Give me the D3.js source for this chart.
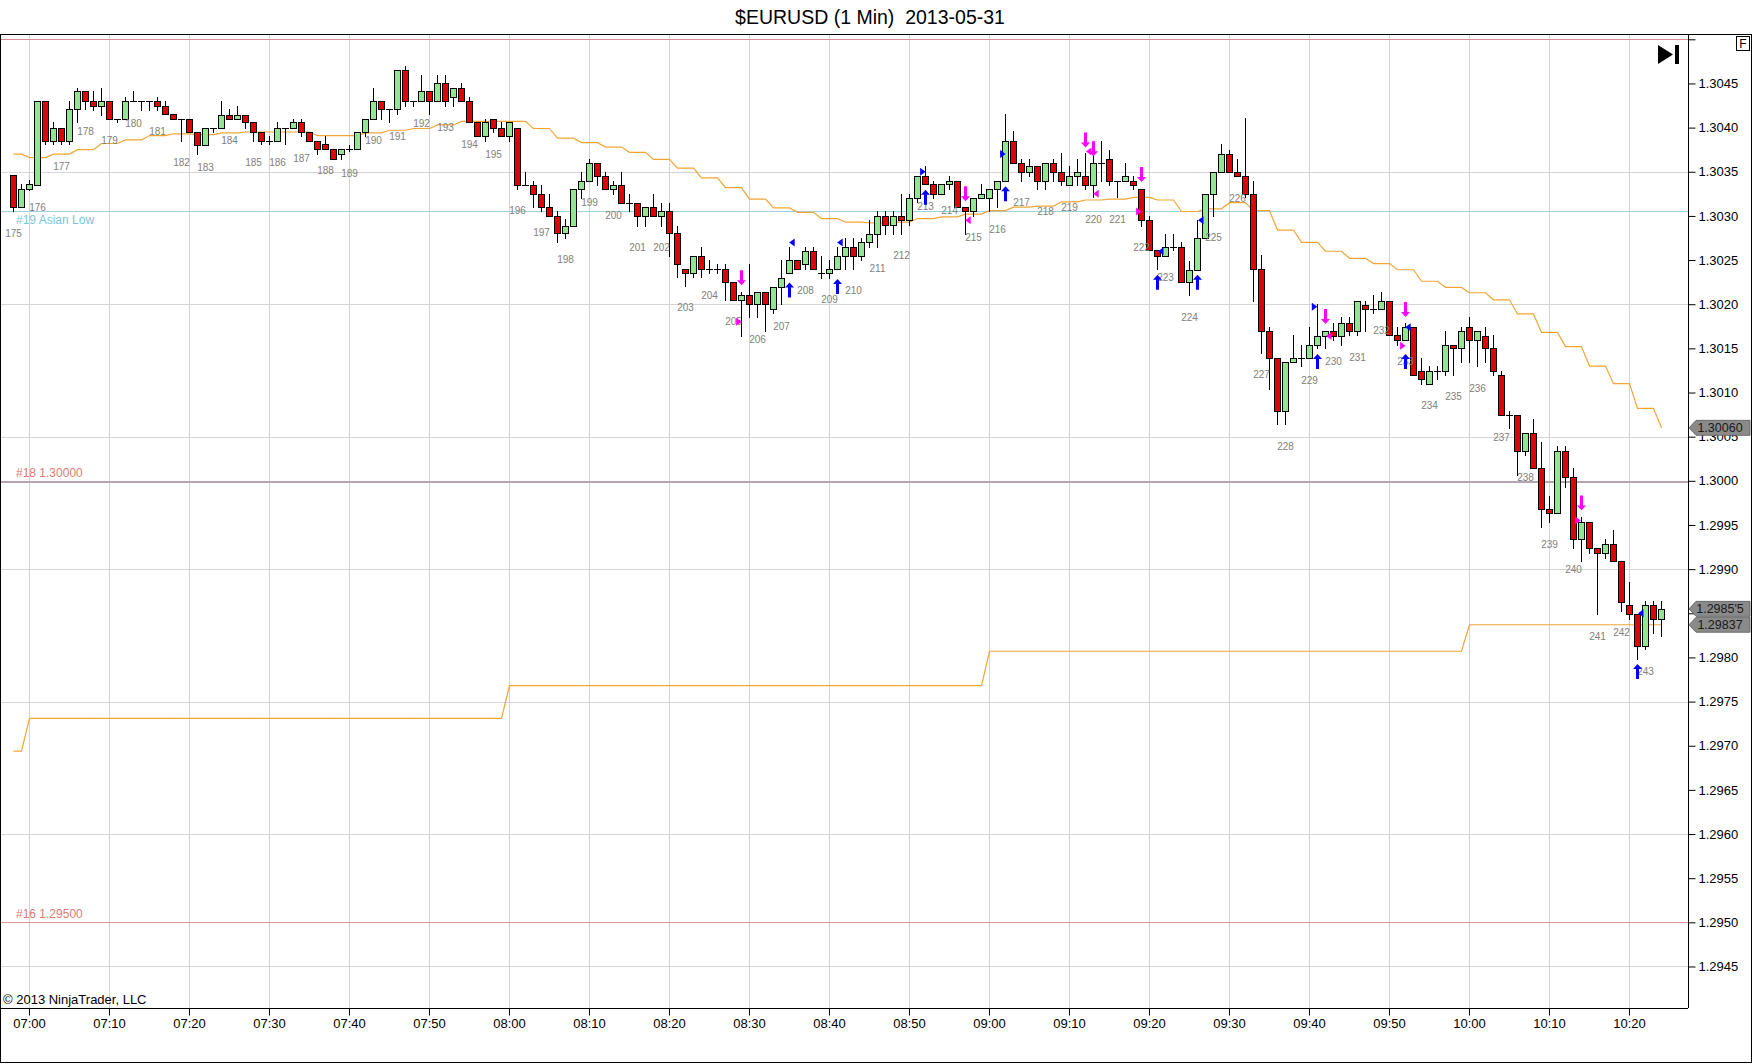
<!DOCTYPE html>
<html><head><meta charset="utf-8">
<script src="https://cdn.jsdelivr.net/npm/d3@7"></script>
<style>
html,body{margin:0;padding:0;background:#fff;}
svg{display:block;}
text{font-family:"Liberation Sans",Arial,sans-serif;}
</style>
</head><body>
<svg id="chart" width="1752" height="1064"></svg>
<script>
// ---------------- DATA ----------------
const chartTitle = "$EURUSD (1 Min)  2013-05-31";
const copyrightText = "\u00a9 2013 NinjaTrader, LLC";

const barTimes = [
 "06:58","06:59",
 "07:00","07:01","07:02","07:03","07:04","07:05","07:06","07:07","07:08","07:09",
 "07:10","07:11","07:12","07:13","07:14","07:15","07:16","07:17","07:18","07:19",
 "07:20","07:21","07:22","07:23","07:24","07:25","07:26","07:27","07:28","07:29",
 "07:30","07:31","07:32","07:33","07:34","07:35","07:36","07:37","07:38","07:39",
 "07:40","07:41","07:42","07:43","07:44","07:45","07:46","07:47","07:48","07:49",
 "07:50","07:51","07:52","07:53","07:54","07:55","07:56","07:57","07:58","07:59",
 "08:00","08:01","08:02","08:03","08:04","08:05","08:06","08:07","08:08","08:09",
 "08:10","08:11","08:12","08:13","08:14","08:15","08:16","08:17","08:18","08:19",
 "08:20","08:21","08:22","08:23","08:24","08:25","08:26","08:27","08:28","08:29",
 "08:30","08:31","08:32","08:33","08:34","08:35","08:36","08:37","08:38","08:39",
 "08:40","08:41","08:42","08:43","08:44","08:45","08:46","08:47","08:48","08:49",
 "08:50","08:51","08:52","08:53","08:54","08:55","08:56","08:57","08:58","08:59",
 "09:00","09:01","09:02","09:03","09:04","09:05","09:06","09:07","09:08","09:09",
 "09:10","09:11","09:12","09:13","09:14","09:15","09:16","09:17","09:18","09:19",
 "09:20","09:21","09:22","09:23","09:24","09:25","09:26","09:27","09:28","09:29",
 "09:30","09:31","09:32","09:33","09:34","09:35","09:36","09:37","09:38","09:39",
 "09:40","09:41","09:42","09:43","09:44","09:45","09:46","09:47","09:48","09:49",
 "09:50","09:51","09:52","09:53","09:54","09:55","09:56","09:57","09:58","09:59",
 "10:00","10:01","10:02","10:03","10:04","10:05","10:06","10:07","10:08","10:09",
 "10:10","10:11","10:12","10:13","10:14","10:15","10:16","10:17","10:18","10:19",
 "10:20","10:21","10:22","10:23","10:24"
];

const barOpen = [
 1.30346,1.30310,
 1.30331,1.30335,1.30430,1.30385,1.30400,1.30385,1.30421,1.30441,1.30430,1.30425,
 1.30430,1.30410,1.30410,1.30430,1.30430,1.30430,1.30430,1.30425,1.30415,1.30410,
 1.30410,1.30395,1.30380,1.30400,1.30400,1.30414,1.30410,1.30414,1.30406,1.30395,
 1.30385,1.30385,1.30400,1.30400,1.30406,1.30395,1.30385,1.30381,1.30376,1.30370,
 1.30376,1.30376,1.30395,1.30410,1.30430,1.30421,1.30421,1.30465,1.30430,1.30430,
 1.30441,1.30430,1.30450,1.30435,1.30445,1.30430,1.30406,1.30390,1.30410,1.30400,
 1.30390,1.30400,1.30335,1.30335,1.30325,1.30310,1.30300,1.30281,1.30289,1.30331,
 1.30340,1.30360,1.30345,1.30331,1.30335,1.30315,1.30315,1.30300,1.30310,1.30300,
 1.30306,1.30281,1.30240,1.30235,1.30255,1.30240,1.30240,1.30240,1.30225,1.30205,
 1.30210,1.30200,1.30214,1.30195,1.30220,1.30235,1.30250,1.30245,1.30260,1.30235,
 1.30235,1.30240,1.30255,1.30265,1.30255,1.30270,1.30280,1.30300,1.30290,1.30300,
 1.30295,1.30320,1.30345,1.30336,1.30325,1.30336,1.30340,1.30310,1.30305,1.30320,
 1.30320,1.30331,1.30340,1.30385,1.30360,1.30350,1.30356,1.30340,1.30360,1.30350,
 1.30335,1.30345,1.30345,1.30335,1.30360,1.30365,1.30340,1.30340,1.30340,1.30330,
 1.30295,1.30261,1.30255,1.30265,1.30265,1.30225,1.30239,1.30275,1.30325,1.30350,
 1.30370,1.30350,1.30345,1.30325,1.30240,1.30170,1.30139,1.30079,1.30134,1.30139,
 1.30139,1.30154,1.30164,1.30170,1.30164,1.30179,1.30170,1.30199,1.30195,1.30195,
 1.30204,1.30165,1.30160,1.30174,1.30124,1.30110,1.30124,1.30124,1.30154,1.30150,
 1.30174,1.30160,1.30164,1.30150,1.30120,1.30074,1.30074,1.30034,1.30054,1.30014,
 1.29968,1.29964,1.30034,1.30004,1.29934,1.29953,1.29924,1.29918,1.29928,1.29909,
 1.29859,1.29849,1.29813,1.29859,1.29843
];

const barHigh = [
 1.30346,1.30336,
 1.30341,1.30430,1.30430,1.30406,1.30400,1.30430,1.30445,1.30441,1.30441,1.30445,
 1.30430,1.30410,1.30435,1.30441,1.30430,1.30430,1.30435,1.30430,1.30415,1.30410,
 1.30410,1.30395,1.30400,1.30400,1.30430,1.30421,1.30425,1.30414,1.30406,1.30395,
 1.30390,1.30406,1.30400,1.30410,1.30410,1.30395,1.30385,1.30390,1.30376,1.30376,
 1.30380,1.30395,1.30410,1.30445,1.30430,1.30421,1.30465,1.30470,1.30430,1.30460,
 1.30441,1.30460,1.30460,1.30445,1.30450,1.30435,1.30406,1.30410,1.30410,1.30406,
 1.30406,1.30400,1.30350,1.30340,1.30335,1.30325,1.30306,1.30296,1.30331,1.30350,
 1.30365,1.30360,1.30350,1.30340,1.30350,1.30325,1.30315,1.30310,1.30325,1.30315,
 1.30315,1.30289,1.30240,1.30255,1.30265,1.30250,1.30245,1.30245,1.30225,1.30214,
 1.30245,1.30214,1.30214,1.30220,1.30250,1.30265,1.30250,1.30265,1.30265,1.30255,
 1.30250,1.30265,1.30275,1.30275,1.30275,1.30295,1.30305,1.30305,1.30305,1.30325,
 1.30325,1.30345,1.30356,1.30340,1.30336,1.30345,1.30340,1.30310,1.30320,1.30336,
 1.30331,1.30340,1.30415,1.30396,1.30365,1.30365,1.30356,1.30360,1.30365,1.30371,
 1.30356,1.30365,1.30371,1.30371,1.30385,1.30375,1.30340,1.30360,1.30345,1.30330,
 1.30300,1.30261,1.30280,1.30280,1.30270,1.30249,1.30295,1.30325,1.30350,1.30381,
 1.30375,1.30365,1.30411,1.30340,1.30256,1.30174,1.30139,1.30134,1.30165,1.30154,
 1.30174,1.30200,1.30170,1.30179,1.30185,1.30185,1.30204,1.30204,1.30210,1.30214,
 1.30204,1.30174,1.30179,1.30174,1.30139,1.30130,1.30130,1.30170,1.30154,1.30174,
 1.30185,1.30170,1.30174,1.30165,1.30124,1.30079,1.30074,1.30054,1.30070,1.30044,
 1.29983,1.30039,1.30039,1.30014,1.29959,1.29953,1.29924,1.29934,1.29944,1.29909,
 1.29885,1.29849,1.29864,1.29864,1.29864
];

const barLow = [
 1.30305,1.30310,
 1.30329,1.30335,1.30381,1.30381,1.30381,1.30381,1.30406,1.30421,1.30420,1.30414,
 1.30410,1.30406,1.30410,1.30430,1.30420,1.30420,1.30420,1.30415,1.30410,1.30385,
 1.30395,1.30370,1.30380,1.30395,1.30400,1.30410,1.30410,1.30400,1.30385,1.30381,
 1.30381,1.30385,1.30381,1.30400,1.30390,1.30385,1.30370,1.30376,1.30365,1.30365,
 1.30373,1.30376,1.30390,1.30410,1.30410,1.30406,1.30415,1.30425,1.30425,1.30430,
 1.30415,1.30430,1.30425,1.30425,1.30430,1.30406,1.30390,1.30385,1.30395,1.30390,
 1.30385,1.30331,1.30335,1.30310,1.30306,1.30300,1.30270,1.30275,1.30289,1.30320,
 1.30340,1.30335,1.30331,1.30325,1.30315,1.30306,1.30289,1.30289,1.30300,1.30289,
 1.30255,1.30231,1.30221,1.30231,1.30231,1.30235,1.30235,1.30205,1.30205,1.30164,
 1.30185,1.30185,1.30170,1.30190,1.30200,1.30235,1.30240,1.30240,1.30240,1.30230,
 1.30230,1.30240,1.30240,1.30240,1.30250,1.30265,1.30265,1.30280,1.30280,1.30280,
 1.30290,1.30316,1.30336,1.30320,1.30325,1.30331,1.30310,1.30280,1.30300,1.30320,
 1.30305,1.30310,1.30340,1.30360,1.30340,1.30345,1.30330,1.30330,1.30340,1.30335,
 1.30335,1.30335,1.30330,1.30321,1.30340,1.30335,1.30321,1.30340,1.30330,1.30289,
 1.30261,1.30240,1.30255,1.30261,1.30225,1.30210,1.30239,1.30275,1.30300,1.30350,
 1.30350,1.30345,1.30321,1.30204,1.30145,1.30104,1.30064,1.30064,1.30134,1.30130,
 1.30139,1.30150,1.30150,1.30160,1.30154,1.30165,1.30165,1.30170,1.30190,1.30195,
 1.30165,1.30154,1.30160,1.30120,1.30110,1.30110,1.30115,1.30120,1.30120,1.30134,
 1.30134,1.30130,1.30135,1.30120,1.30074,1.30060,1.30007,1.30029,1.30014,1.29948,
 1.29953,1.29964,1.29993,1.29924,1.29909,1.29918,1.29849,1.29913,1.29909,1.29853,
 1.29843,1.29798,1.29809,1.29828,1.29824
];

const barClose = [
 1.30310,1.30331,
 1.30336,1.30430,1.30385,1.30400,1.30385,1.30421,1.30441,1.30430,1.30425,1.30430,
 1.30410,1.30410,1.30430,1.30430,1.30430,1.30430,1.30425,1.30415,1.30410,1.30410,
 1.30395,1.30380,1.30400,1.30400,1.30414,1.30410,1.30414,1.30406,1.30395,1.30385,
 1.30385,1.30400,1.30400,1.30406,1.30395,1.30385,1.30376,1.30376,1.30365,1.30376,
 1.30376,1.30395,1.30410,1.30430,1.30421,1.30421,1.30465,1.30430,1.30430,1.30441,
 1.30430,1.30450,1.30430,1.30445,1.30430,1.30406,1.30390,1.30406,1.30400,1.30390,
 1.30406,1.30335,1.30335,1.30325,1.30310,1.30300,1.30281,1.30289,1.30331,1.30340,
 1.30360,1.30345,1.30331,1.30335,1.30315,1.30315,1.30300,1.30310,1.30300,1.30306,
 1.30281,1.30245,1.30235,1.30255,1.30240,1.30240,1.30240,1.30225,1.30205,1.30210,
 1.30200,1.30214,1.30200,1.30220,1.30230,1.30250,1.30240,1.30260,1.30240,1.30235,
 1.30240,1.30255,1.30265,1.30255,1.30270,1.30280,1.30300,1.30290,1.30300,1.30295,
 1.30320,1.30345,1.30336,1.30325,1.30336,1.30340,1.30310,1.30305,1.30320,1.30325,
 1.30331,1.30340,1.30385,1.30360,1.30350,1.30356,1.30340,1.30360,1.30350,1.30340,
 1.30345,1.30350,1.30335,1.30360,1.30360,1.30340,1.30340,1.30345,1.30335,1.30295,
 1.30261,1.30255,1.30265,1.30265,1.30225,1.30239,1.30275,1.30325,1.30350,1.30370,
 1.30350,1.30345,1.30325,1.30240,1.30170,1.30139,1.30079,1.30134,1.30139,1.30139,
 1.30154,1.30164,1.30170,1.30164,1.30179,1.30170,1.30204,1.30195,1.30195,1.30204,
 1.30165,1.30160,1.30174,1.30120,1.30115,1.30124,1.30124,1.30154,1.30150,1.30170,
 1.30160,1.30170,1.30150,1.30124,1.30074,1.30074,1.30034,1.30054,1.30014,1.29968,
 1.29964,1.30034,1.30004,1.29934,1.29953,1.29924,1.29918,1.29928,1.29909,1.29863,
 1.29849,1.29813,1.29859,1.29843,1.29855
];

// bar counter labels, one on every third bar starting with the first bar
const barNumbers = [175,176,177,178,179,180,181,182,183,184,185,186,187,188,189,190,191,192,193,194,195,196,197,198,199,200,
 201,202,203,204,205,206,207,208,209,210,211,212,213,214,215,216,217,218,219,220,221,222,223,224,225,226,227,228,229,230,
 231,232,233,234,235,236,237,238,239,240,241,242,243];

// orange trailing line (value changes every 3 minutes)
const maBlockStart = ["06:57","07:00","07:03","07:06","07:09","07:12","07:15","07:18","07:21","07:24","07:27","07:30","07:33","07:36","07:39",
 "07:42","07:45","07:48","07:51","07:54","07:57","08:00","08:03","08:06","08:09","08:12","08:15","08:18","08:21","08:24","08:27","08:30",
 "08:33","08:36","08:39","08:42","08:45","08:48","08:51","08:54","08:57","09:00","09:03","09:06","09:09","09:12","09:15","09:18","09:21",
 "09:24","09:27","09:30","09:33","09:36","09:39","09:42","09:45","09:48","09:51","09:54","09:57","10:00","10:03","10:06","10:09","10:12",
 "10:15","10:18","10:21","10:24"];
const maBlockValue = [1.30370,1.30366,1.30370,1.30375,1.30382,1.30386,1.30391,1.30393,1.30392,1.30394,1.30395,1.30395,1.30395,1.30391,1.30391,
 1.30394,1.30397,1.30399,1.30403,1.30407,1.30407,1.30407,1.30399,1.30388,1.30383,1.30378,1.30372,1.30364,1.30354,1.30343,1.30332,1.30319,
 1.30309,1.30304,1.30297,1.30293,1.30292,1.30293,1.30297,1.30299,1.30302,1.30306,1.30310,1.30311,1.30316,1.30318,1.30319,1.30321,1.30318,
 1.30305,1.30308,1.30315,1.30306,1.30284,1.30270,1.30260,1.30252,1.30246,1.30239,1.30226,1.30219,1.30213,1.30205,1.30189,1.30168,1.30152,
 1.30130,1.30110,1.30082,1.30060];

// lower orange line (value per hour)
const hourBlockStart = ["06:00","07:00","08:00","09:00","10:00"];
const hourBlockValue = [1.29694,1.29731,1.29768,1.29807,1.29837];

// horizontal levels
const levelPrices = [1.30500, 1.30305, 1.30000, 1.29500];
const levelLabels = ["", "#19 Asian Low", "#18 1.30000", "#16 1.29500"];

// signal markers
const upArrowTimes = ["08:35","08:41","08:52","09:02","09:21","09:26","09:41","09:52","10:21"];
const upArrowPrices = [1.30216,1.30220,1.30321,1.30325,1.30225,1.30225,1.30135,1.30135,1.29784];
const downArrowTimes = ["08:29","08:57","09:12","09:13","09:19","09:42","09:52","10:14"];
const downArrowPrices = [1.30230,1.30325,1.30386,1.30376,1.30347,1.30186,1.30194,1.29975];
const triTimes = ["08:28:42","08:35:24","08:41:24","08:51:42","08:57:24","09:01:42","09:12:30","09:13:24","09:18:42",
 "09:21:30","09:26:30","09:40:40","09:42:30","09:51:42","09:52:24","10:13:36","10:21:30"];
const triPrices = [1.30180,1.30270,1.30270,1.30350,1.30295,1.30370,1.30373,1.30325,1.30305,
 1.30260,1.30295,1.30197,1.30164,1.30153,1.30174,1.29955,1.29850];
const triKinds = ["shortRight","longLeft","longLeft","longRight","shortLeft","longRight","shortLeft","shortLeft","shortRight",
 "longLeft","longLeft","longRight","shortLeft","shortRight","longLeft","shortRight","longLeft"];

// price axis (1.2985 label sits under the price badges; 1.3050 has no label)
const priceTicks = [1.2945,1.2950,1.2955,1.2960,1.2965,1.2970,1.2975,1.2980,1.2985,1.2990,1.2995,1.3000,
 1.3005,1.3010,1.3015,1.3020,1.3025,1.3030,1.3035,1.3040,1.3045,1.3050];
const hiddenTickLabels = [1.2985, 1.3050];
const priceGrid = [1.2945,1.2960,1.2975,1.2990,1.3005,1.3020,1.3035,1.3050];
const badgeTexts = ["1.30060","1.2985'5","1.29837"];
const badgePrices = [1.30060,1.29855,1.29837];

// ---------------- DRAWING ----------------
const W = 1752, H = 1064;
const P = {left:0, top:34, right:1688, bottom:1008};
const pHM = d3.timeParse("%H:%M"), pHMS = d3.timeParse("%H:%M:%S"), pHMSL = d3.timeParse("%H:%M:%S.%L");
function toDate(s){ return s.length===5 ? pHM(s) : (s.length===8 ? pHMS(s) : pHMSL(s)); }

const x = d3.scaleTime().domain([toDate("06:56:22.500"), toDate("10:27:22.500")]).range([P.left, P.right]);
const y = d3.scaleLinear().domain([1.29403, 1.30506]).range([P.bottom, P.top]);

const svg = d3.select("#chart");
svg.append("rect").attr("width",W).attr("height",H).attr("fill","#fff");

svg.append("defs").append("clipPath").attr("id","plotclip")
  .append("rect").attr("x",P.left).attr("y",P.top).attr("width",P.right-P.left).attr("height",P.bottom-P.top);

// title (keeps the double space)
svg.append("text").attr("x",870).attr("y",24).attr("text-anchor","middle")
  .attr("xml:space","preserve").style("white-space","pre")
  .attr("font-size",19.5).attr("fill","#000").text(chartTitle);

const plot = svg.append("g").attr("clip-path","url(#plotclip)");

// grid
const timeTicks = x.ticks(d3.timeMinute.every(10));
plot.append("g").selectAll("line").data(timeTicks).join("line")
  .attr("x1",d=>Math.round(x(d))+0.5).attr("x2",d=>Math.round(x(d))+0.5)
  .attr("y1",P.top).attr("y2",P.bottom)
  .attr("stroke","#d4d4d4").attr("stroke-width",1).attr("shape-rendering","crispEdges");
plot.append("g").selectAll("line").data(priceGrid).join("line")
  .attr("x1",P.left).attr("x2",P.right)
  .attr("y1",d=>Math.round(y(d))+0.5).attr("y2",d=>Math.round(y(d))+0.5)
  .attr("stroke","#d4d4d4").attr("stroke-width",1).attr("shape-rendering","crispEdges");

// level lines
const levelStroke = ["#d58a96","#9fd0e2","#b5a2b5","#d99a9a"];
const levelWidth = [1,1,2,1];
const levelColor = ["#e07878","#80c4dc","#e07878","#e07878"];
const levelDy = [-4,13,-4,-4];
const levels = levelPrices.map((p,i)=>({p, label:levelLabels[i], i}));
plot.append("g").selectAll("line").data(levels).join("line")
  .attr("x1",P.left).attr("x2",P.right)
  .attr("y1",d=>Math.round(y(d.p))+0.5).attr("y2",d=>Math.round(y(d.p))+0.5)
  .attr("stroke",d=>levelStroke[d.i]).attr("stroke-width",d=>levelWidth[d.i]).attr("shape-rendering","crispEdges");
plot.append("g").selectAll("text").data(levels.filter(d=>d.label)).join("text")
  .attr("x",16).attr("y",d=>y(d.p)+levelDy[d.i])
  .attr("font-family","DejaVu Sans, Verdana, sans-serif").attr("font-size",12)
  .attr("fill",d=>levelColor[d.i]).text(d=>d.label);

// orange lines
const firstT = toDate(barTimes[0]), lastT = toDate(barTimes[barTimes.length-1]);
const maPts = [];
maBlockStart.forEach((s,i)=>{
  const t0 = toDate(s), t1 = d3.timeMinute.offset(t0,2);
  const a = t0 < firstT ? firstT : t0, b = t1 > lastT ? lastT : t1;
  maPts.push([a, maBlockValue[i]]);
  if (+b > +a) maPts.push([b, maBlockValue[i]]);
});
const hrPts = [];
hourBlockStart.forEach((s,i)=>{
  const t0 = toDate(s), t1 = d3.timeMinute.offset(t0,59);
  const a = t0 < firstT ? firstT : t0, b = t1 > lastT ? lastT : t1;
  hrPts.push([a, hourBlockValue[i]]);
  if (+b > +a) hrPts.push([b, hourBlockValue[i]]);
});
const lineGen = d3.line().x(d=>Math.round(x(d[0]))+0.5).y(d=>y(d[1]));
plot.append("path").datum(maPts).attr("d",lineGen).attr("fill","none").attr("stroke","#f2a535").attr("stroke-width",1.2);
plot.append("path").datum(hrPts).attr("d",lineGen).attr("fill","none").attr("stroke","#f2a535").attr("stroke-width",1.2);

// candles
const bars = barTimes.map((t,i)=>({t:toDate(t), o:barOpen[i], h:barHigh[i], l:barLow[i], c:barClose[i], i}));
const cx = d=>Math.round(x(d.t));
const cg = plot.append("g");
cg.selectAll("line.wick").data(bars).join("line").attr("class","wick")
  .attr("x1",d=>cx(d)+0.5).attr("x2",d=>cx(d)+0.5)
  .attr("y1",d=>Math.round(y(d.h))).attr("y2",d=>Math.round(y(d.l))+1)
  .attr("stroke","#000").attr("stroke-width",1).attr("shape-rendering","crispEdges");
const bodies = bars.filter(d=>d.o!==d.c);
cg.selectAll("rect.body").data(bodies).join("rect").attr("class","body")
  .attr("x",d=>cx(d)-2.5).attr("width",6)
  .attr("y",d=>Math.round(y(Math.max(d.o,d.c)))+0.5)
  .attr("height",d=>Math.max(1, Math.round(y(Math.min(d.o,d.c))) - Math.round(y(Math.max(d.o,d.c)))))
  .attr("fill",d=>d.c>d.o ? "#93e593" : "#e40000")
  .attr("stroke","#000").attr("stroke-width",1).attr("shape-rendering","crispEdges");
const dojis = bars.filter(d=>d.o===d.c);
cg.selectAll("line.doji").data(dojis).join("line").attr("class","doji")
  .attr("x1",d=>cx(d)-3).attr("x2",d=>cx(d)+4)
  .attr("y1",d=>Math.round(y(d.o))+0.5).attr("y2",d=>Math.round(y(d.o))+0.5)
  .attr("stroke","#000").attr("stroke-width",1).attr("shape-rendering","crispEdges");

// bar counter labels
const labelled = barNumbers.map((n,k)=>({n, bar:bars[k*3]})).filter(d=>d.bar);
plot.append("g").selectAll("text").data(labelled).join("text")
  .attr("x",d=>cx(d.bar)+0.5).attr("y",d=>y(d.bar.l)+22).attr("dy","0.35em")
  .attr("text-anchor","middle").attr("font-family","DejaVu Sans, Verdana, sans-serif")
  .attr("font-size",10).attr("fill","#808080").text(d=>d.n);

// markers
const upPath = "M0,-7.5 L4.5,-2.5 L1.5,-2.5 L1.5,7.5 L-1.5,7.5 L-1.5,-2.5 L-4.5,-2.5 Z";
const mg = plot.append("g");
mg.selectAll("path.up").data(upArrowTimes.map((t,i)=>({t:toDate(t), p:upArrowPrices[i]}))).join("path")
  .attr("class","up").attr("d",upPath).attr("fill","#0000ff")
  .attr("transform",d=>`translate(${Math.round(x(d.t))+0.5},${y(d.p)})`);
mg.selectAll("path.down").data(downArrowTimes.map((t,i)=>({t:toDate(t), p:downArrowPrices[i]}))).join("path")
  .attr("class","down").attr("d",upPath).attr("fill","#ff00ff")
  .attr("transform",d=>`translate(${Math.round(x(d.t))+0.5},${y(d.p)}) scale(1,-1)`);
const triRight = "M-2.5,-4 L3,0 L-2.5,4 Z", triLeft = "M2.5,-4 L-3,0 L2.5,4 Z";
mg.selectAll("path.tri").data(triTimes.map((t,i)=>({t:toDate(t), p:triPrices[i], k:triKinds[i]}))).join("path")
  .attr("class","tri")
  .attr("d",d=>d.k.endsWith("Right") ? triRight : triLeft)
  .attr("fill",d=>d.k.startsWith("long") ? "#0000ff" : "#ff00ff")
  .attr("transform",d=>`translate(${x(d.t)},${y(d.p)})`);

// axes
const isHidden = d => hiddenTickLabels.some(h => Math.abs(h-d) < 1e-7);
const yAxis = d3.axisRight(y).tickValues(priceTicks)
  .tickFormat(d=> isHidden(d) ? "" : d3.format(".4f")(d)).tickSize(7).tickSizeOuter(0);
const ya = svg.append("g").attr("transform",`translate(${P.right+0.5},0)`).call(yAxis);
ya.select(".domain").attr("stroke","#000").attr("d",`M0,${P.top}V${P.bottom}`);
ya.selectAll(".tick line").attr("stroke","#000");
ya.selectAll(".tick text").attr("font-family","Liberation Sans, Arial, sans-serif").attr("font-size",13).attr("fill","#000");

const xAxis = d3.axisBottom(x).ticks(d3.timeMinute.every(10)).tickFormat(d3.timeFormat("%H:%M")).tickSize(7).tickSizeOuter(0);
const xa = svg.append("g").attr("transform",`translate(0,${P.bottom+0.5})`).call(xAxis);
xa.select(".domain").attr("stroke","#000").attr("d",`M${P.left},0H${P.right}`);
xa.selectAll(".tick line").attr("stroke","#000");
xa.selectAll(".tick text").attr("font-family","Liberation Sans, Arial, sans-serif").attr("font-size",13).attr("fill","#000");

// frame
svg.append("rect").attr("x",0.5).attr("y",P.top+0.5).attr("width",W-1).attr("height",1062-P.top)
  .attr("fill","none").attr("stroke","#000").attr("stroke-width",1).attr("shape-rendering","crispEdges");

// copyright
svg.append("text").attr("x",3).attr("y",1004).attr("font-size",13).attr("fill","#000").text(copyrightText);

// price badges
const bg = svg.append("g");
badgeTexts.forEach((txt,i)=>{
  const yc = y(badgePrices[i]);
  bg.append("path").attr("d",`M${P.right+1},${yc} L${P.right+8},${yc-7.5} L1750,${yc-7.5} L1750,${yc+7.5} L${P.right+8},${yc+7.5} Z`)
    .attr("fill","#8a8a8a").attr("stroke","#5a5a5a").attr("stroke-width",0.8);
  bg.append("text").attr("x",1720).attr("y",yc).attr("dy","0.36em").attr("text-anchor","middle")
    .attr("font-size",12.5).attr("fill","#1a1a1a").text(txt);
});

// navigation icon and F box
svg.append("path").attr("d","M1658,45 L1673,54.5 L1658,64 Z").attr("fill","#000");
svg.append("rect").attr("x",1675).attr("y",45).attr("width",4).attr("height",19).attr("fill","#000");
svg.append("rect").attr("x",1736.5).attr("y",36.5).attr("width",13).attr("height",14).attr("fill","#fff").attr("stroke","#000");
svg.append("text").attr("x",1743).attr("y",48).attr("text-anchor","middle").attr("font-size",12).attr("fill","#000").text("F");
</script>
</body></html>
